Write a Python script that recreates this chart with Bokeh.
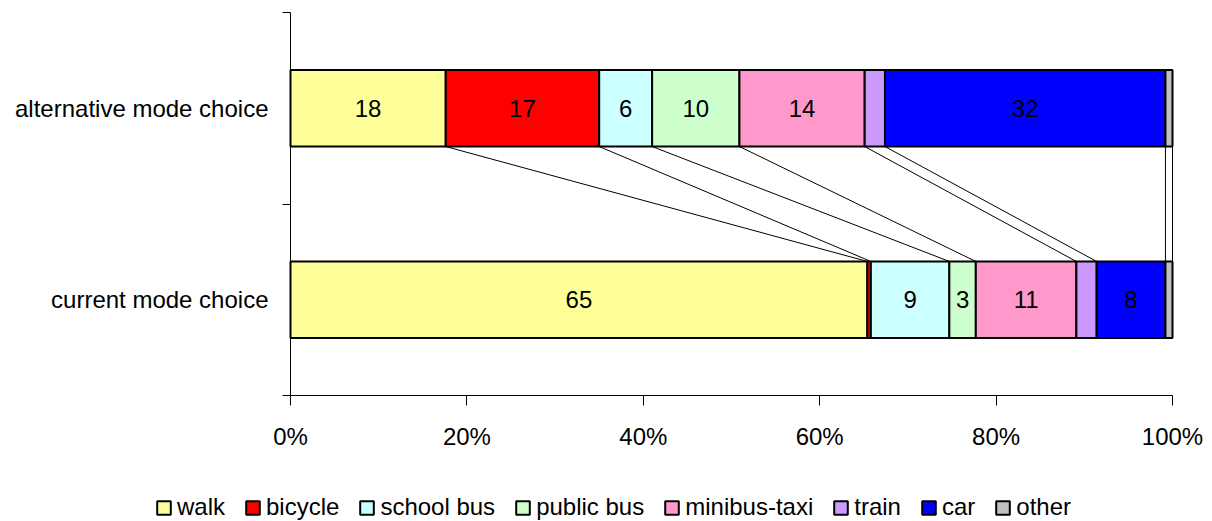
from bokeh.plotting import figure
from bokeh.models import (ColumnDataSource, Range1d, FixedTicker, NumeralTickFormatter,
                          Legend, LegendItem)
from bokeh.core.properties import value
from bokeh.embed import file_html
from bokeh.resources import INLINE

# Mode share (%) for each trip scenario
categories = ["current mode choice", "alternative mode choice"]
modes = ["walk", "bicycle", "school bus", "public bus", "minibus-taxi", "train", "car", "other"]
current = [65.4, 0.4, 8.9, 3.0, 11.4, 2.3, 7.8, 0.8]
alternative = [17.6, 17.4, 6.0, 9.9, 14.2, 2.3, 31.8, 0.8]
colors = ["#FFFF99", "#FF0000", "#CCFFFF", "#CCFFCC", "#FF99CC", "#CC99FF", "#0000FF", "#C0C0C0"]
x_ticks = [0, 0.2, 0.4, 0.6, 0.8, 1.0]

FONT = "Liberation Sans"
FS = "24px"

y_pos = [0.5, 1.5]          # current at bottom, alternative on top
bar_h = 0.4

# The frame covers the whole canvas; the axes sit at x=0 / y=0 inside it so the
# category names and the legend have room around the bar area.
W, H = 1212, 521
left_px, right_px, top_px, bottom_px = 290, 40, 12, 126
sx = (W - left_px - right_px) / 1.0
sy = (H - top_px - bottom_px) / 2.0

p = figure(width=W, height=H, output_backend="svg", toolbar_location=None,
           x_range=Range1d(-left_px / sx, 1 + right_px / sx),
           y_range=Range1d(-bottom_px / sy, 2 + top_px / sy),
           min_border=0)
p.outline_line_color = None
p.grid.visible = False
p.background_fill_color = "white"

cum_cur = [0.0]
cum_alt = [0.0]
for c, a in zip(current, alternative):
    cum_cur.append(cum_cur[-1] + c)
    cum_alt.append(cum_alt[-1] + a)

# series lines joining matching segment boundaries of the two bars
xs, ys = [], []
for i in range(1, len(cum_cur)):
    xs.append([cum_alt[i] / 100, cum_cur[i] / 100])
    ys.append([y_pos[1] - bar_h / 2, y_pos[0] + bar_h / 2])
p.multi_line(xs, ys, line_color="black", line_width=1)

items = []
for i, m in enumerate(modes):
    src = ColumnDataSource(dict(
        y=y_pos,
        left=[cum_cur[i] / 100, cum_alt[i] / 100],
        right=[cum_cur[i + 1] / 100, cum_alt[i + 1] / 100],
        val=[current[i], alternative[i]],
    ))
    r = p.hbar(y="y", left="left", right="right", height=bar_h, source=src,
               fill_color=colors[i], line_color="black", line_width=2)
    items.append(LegendItem(label=m, renderers=[r]))

# value labels on segments wide enough to hold them
lx, ly, lt = [], [], []
for vals, cum, y in ((current, cum_cur, y_pos[0]), (alternative, cum_alt, y_pos[1])):
    for i, v in enumerate(vals):
        if v >= 3:
            lx.append((cum[i] + cum[i + 1]) / 200)
            ly.append(y)
            lt.append(f"{v:.0f}")
p.text(lx, ly, text=lt, text_align="center", text_baseline="middle",
       text_font=value(FONT), text_font_size=FS, text_color="black")

# x axis
xa = p.xaxis[0]
xa.fixed_location = 0
xa.bounds = (0, 1)
xa.ticker = FixedTicker(ticks=x_ticks)
xa.formatter = NumeralTickFormatter(format="0%")
xa.major_tick_in = 0
xa.major_tick_out = 10
xa.minor_tick_out = 0
xa.minor_tick_in = 0
xa.major_label_standoff = 17
xa.major_label_text_font = FONT
xa.major_label_text_font_size = FS
xa.major_label_text_color = "black"
xa.axis_line_color = "black"

# y axis: category names centred, ticks on category boundaries
ya = p.yaxis[0]
ya.fixed_location = 0
ya.bounds = (0, 2)
ya.ticker = FixedTicker(ticks=y_pos, minor_ticks=[0, 1, 2])
ya.major_label_overrides = {y_pos[0]: categories[0], y_pos[1]: categories[1]}
ya.major_tick_out = 0
ya.major_tick_in = 0
ya.minor_tick_out = 8
ya.minor_tick_in = 0
ya.major_label_standoff = 14
ya.major_label_text_font = FONT
ya.major_label_text_font_size = FS
ya.major_label_text_color = "black"
ya.axis_line_color = "black"

legend = Legend(items=items, orientation="horizontal", location=(155, 0),
                label_text_font=FONT, label_text_font_size=FS, label_text_color="black",
                glyph_width=17, glyph_height=17, label_standoff=5, spacing=19,
                padding=0, margin=0, border_line_color=None,
                background_fill_alpha=0)
p.add_layout(legend, "center")

open("out.html", "w").write(file_html(p, INLINE))
